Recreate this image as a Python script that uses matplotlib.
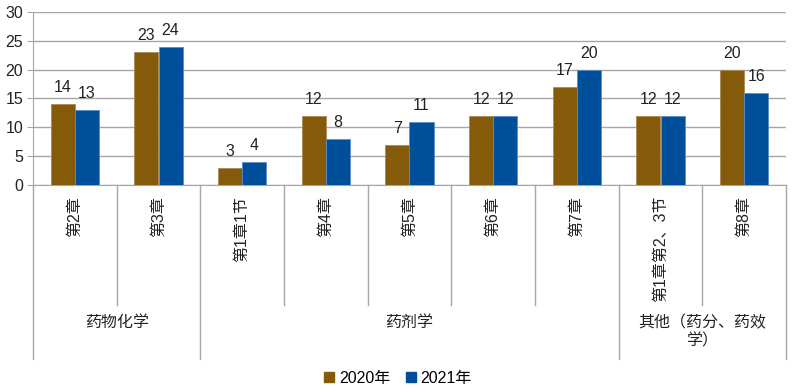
import matplotlib
matplotlib.use("Agg")
import matplotlib.pyplot as plt
from matplotlib.transforms import blended_transform_factory
from matplotlib.patches import Patch
import numpy as np

plt.rcParams['font.family'] = ['Liberation Sans', 'Noto Sans CJK SC', 'DejaVu Sans']

categories = ["第2章", "第3章", "第1章1节", "第4章", "第5章", "第6章", "第7章", "第1章第2、3节", "第8章"]
groups = ["药物化学", "药剂学", "其他（药分、药效\n学）"]
group_sizes = [2, 5, 2]
series_names = ["2020年", "2021年"]
values_2020 = [14, 23, 3, 12, 7, 12, 17, 12, 20]
values_2021 = [13, 24, 4, 8, 11, 12, 20, 12, 16]
yticks = [0, 5, 10, 15, 20, 25, 30]

c2020 = "#855A0A"
c2021 = "#004F9B"
grid_c = "#A6A6A6"
txt_c = "#222222"
fs = 11.5

W, H = 796, 389
fig = plt.figure(figsize=(W / 100, H / 100), dpi=100)
left, right, top, bottom = 33, 786, 12, 185
ax = fig.add_axes([left / W, 1 - bottom / H, (right - left) / W, (bottom - top) / H])

x = np.arange(len(categories))
bw = 0.287
b1 = ax.bar(x - bw / 2, values_2020, bw, color=c2020, edgecolor="#A98A55", linewidth=0.6,
            label=series_names[0], zorder=3)
b2 = ax.bar(x + bw / 2, values_2021, bw, color=c2021, edgecolor="#5A8CC4", linewidth=0.6,
            label=series_names[1], zorder=3)
for bars, vals in ((b1, values_2020), (b2, values_2021)):
    for r, v in zip(bars, vals):
        ax.annotate(str(v), (r.get_x() + r.get_width() / 2, v), xytext=(0, 6.5),
                    textcoords="offset points", ha="center", va="bottom", fontsize=fs, color=txt_c)

ax.set_xlim(-0.5, len(categories) - 0.5)
ax.set_ylim(0, 30)
ax.set_yticks(yticks)
ax.set_yticklabels([str(t) for t in yticks], fontsize=fs, color=txt_c)
ax.yaxis.grid(True, color=grid_c, linewidth=1, zorder=0)
ax.tick_params(axis='y', length=4, color=grid_c, pad=3)
ax.set_xticks([])
for s in ("top", "right"):
    ax.spines[s].set_visible(False)
ax.spines["left"].set_color(grid_c)
ax.spines["bottom"].set_color(grid_c)

tr = blended_transform_factory(ax.transData, fig.transFigure)
def fy(py):
    return 1 - py / H

# category labels
for i, c in enumerate(categories):
    fig.text(0, 0, c, transform=tr, rotation=90, ha="center", va="top",
             fontsize=11.5, color=txt_c).set_position((i, fy(196)))

# separators
boundaries = [-0.5]
for g in group_sizes:
    boundaries.append(boundaries[-1] + g)
group_b = set(boundaries)
for b in np.arange(-0.5, len(categories), 1.0):
    end = 359 if b in group_b else 305
    fig.add_artist(plt.Line2D([b, b], [fy(185), fy(end)], transform=tr, color=grid_c, linewidth=1))

# group labels
for gi, g in enumerate(groups):
    cx = (boundaries[gi] + boundaries[gi + 1]) / 2
    fig.text(0, 0, g, transform=tr, ha="center", va="top", fontsize=fs,
             color=txt_c, linespacing=1.2).set_position((cx, fy(315)))

handles = [Patch(color=c2020), Patch(color=c2021)]
fig.legend(handles, series_names, loc="center", bbox_to_anchor=(398 / W, fy(378)), ncol=2,
           frameon=False, fontsize=fs, handlelength=0.6, handleheight=0.6,
           handletextpad=0.3, columnspacing=1.0)

fig.savefig("out.png", dpi=100)
